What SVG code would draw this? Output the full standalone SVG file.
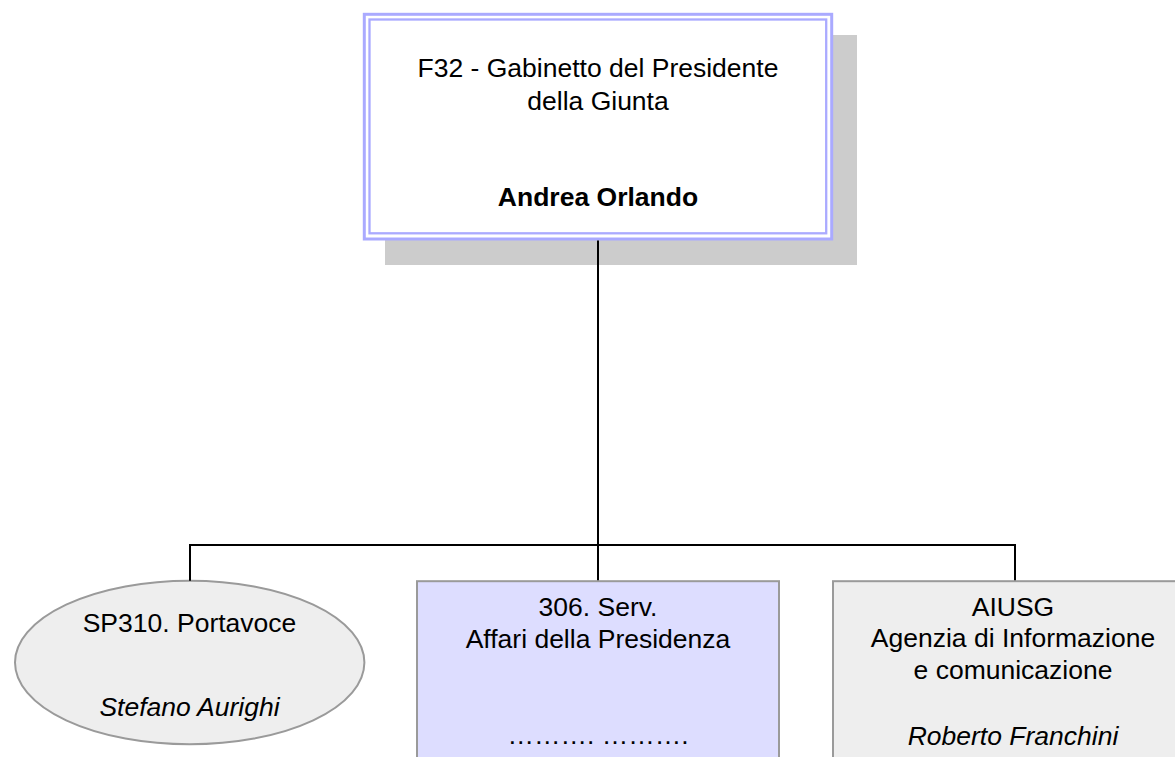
<svg xmlns="http://www.w3.org/2000/svg" width="1175" height="757" viewBox="0 0 1175 757">
  <style>
    text { font-family: "Liberation Sans", Arial, sans-serif; font-size: 26.5px; fill: #000; text-anchor: middle; }
    .b { font-weight: bold; }
    .i { font-style: italic; }
    .conn { stroke: #000; stroke-width: 2; fill: none; }
    .gray { stroke: #9a9a9a; stroke-width: 2; }
  </style>
  <rect width="1175" height="757" fill="#ffffff"/>
  <g id="node-f32">
    <rect x="385" y="35" width="472" height="230" fill="#cccccc"/>
    <rect x="364.3" y="14.3" width="467.4" height="224.7" fill="#ffffff" stroke="#aaaaff" stroke-width="3"/>
    <rect x="369.5" y="19.5" width="456.7" height="213.8" fill="none" stroke="#aaaaff" stroke-width="2.3"/>
    <text x="598" y="77">F32 - Gabinetto del Presidente</text>
    <text x="598" y="110">della Giunta</text>
    <text class="b" x="598" y="206">Andrea Orlando</text>
  </g>
  <g id="node-sp310">
    <ellipse class="gray" cx="189.7" cy="662.5" rx="174.7" ry="81.8" fill="#eeeeee"/>
    <text x="189.5" y="632">SP310. Portavoce</text>
    <text class="i" x="189.5" y="716">Stefano Aurighi</text>
  </g>
  <g id="node-306">
    <rect class="gray" x="417" y="581.2" width="362" height="190" fill="#ddddff"/>
    <text x="598" y="615.5">306. Serv.</text>
    <text x="598" y="647.5">Affari della Presidenza</text>
    <text x="598" y="743.5">………. ……….</text>
  </g>
  <g id="node-aiusg">
    <rect class="gray" x="833" y="581.2" width="360" height="190" fill="#eeeeee"/>
    <text x="1013" y="616">AIUSG</text>
    <text x="1013" y="647">Agenzia di Informazione</text>
    <text x="1013" y="679">e comunicazione</text>
    <text class="i" x="1013" y="745">Roberto Franchini</text>
  </g>
  <g id="connectors">
    <line class="conn" x1="598" y1="240.5" x2="598" y2="580.2"/>
    <polyline class="conn" points="190,580.7 190,545 1015,545 1015,580.2"/>
  </g>
</svg>
